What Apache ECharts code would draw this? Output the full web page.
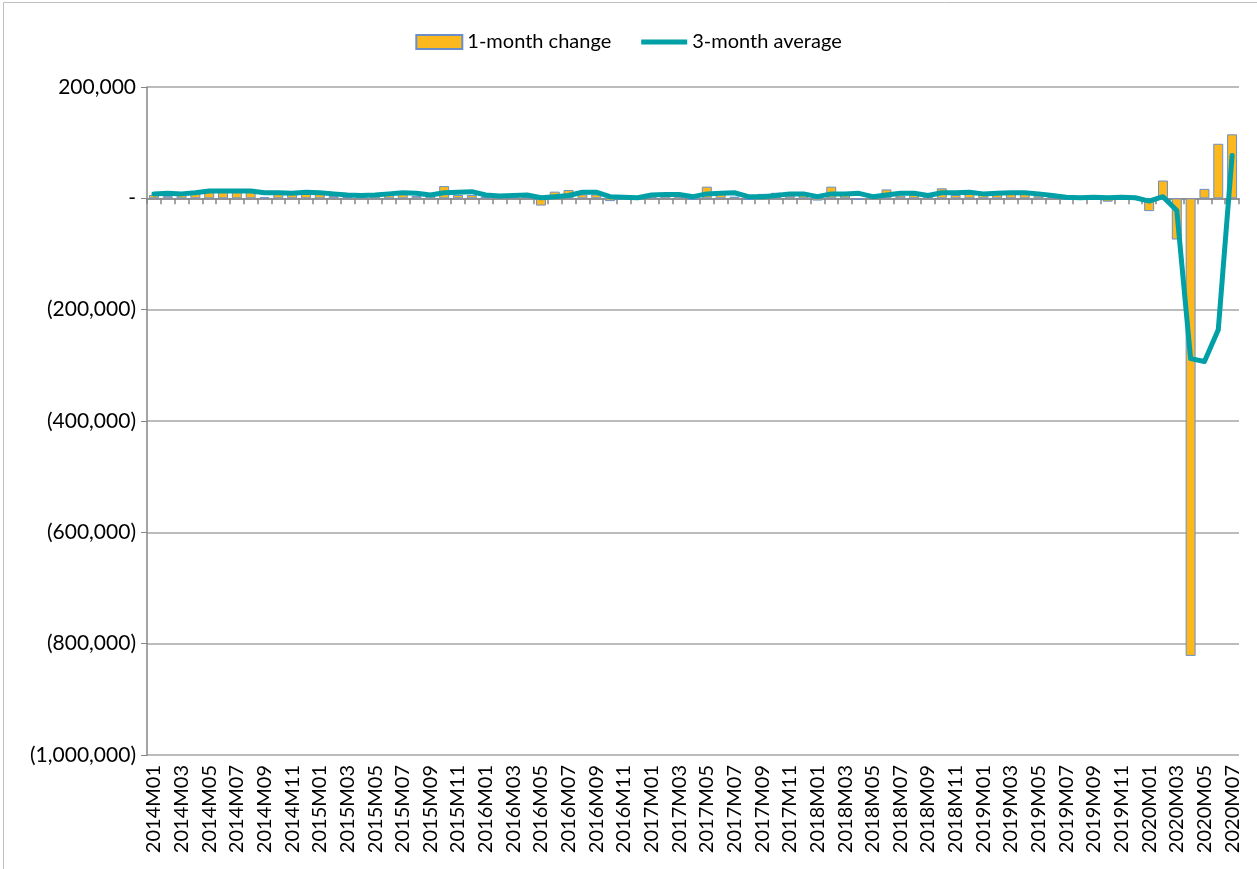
<!DOCTYPE html>
<html lang="en">
<head>
<meta charset="UTF-8" />
<script src="https://cdn.jsdelivr.net/npm/echarts@6/dist/echarts.min.js"></script>
<style>
html,body{margin:0;padding:0;background:#fff;}
#main{width:1257px;height:869px;}
</style>
</head>
<body>
<div id="main"></div>
<script type="text/javascript">
// months 2014M01 .. 2020M07
var years = ['2014','2015','2016','2017','2018','2019','2020'];
var months = [];
for (var y = 0; y < years.length; y++) {
	for (var m = 1; m <= 12; m++) {
		if (years[y] == '2020' && m > 7) break;
		months.push(years[y] + 'M' + (m < 10 ? '0' + m : m));
	}
}

// 1-month change
var change = [
	6000, 4000, 6000, 12000, 12000, 12000, 12000, 12000, 2000, 12000, 8000, 11000,
	9000, 4000, 3000, 4000, 9000, 10000, 12000, 4000, 6000, 22000, 6000, 6000,
	3000, 3000, 6000, 8000, -13000, 12000, 15000, 7000, 7000, -5000, 3000, 4000,
	8000, 8000, 5000, -3000, 21000, 8000, 3000, -3000, 8000, 10000, 5000, 9000,
	-4000, 21000, 8000, -3000, 4000, 16000, 5000, 6000, 6000, 18000, 6000, 9000,
	7000, 9000, 12000, 8000, 5000, 3000, -2000, 3000, 5000, -6000, 6000, 3000,
	-23000, 32000, -74000, -822000, 17000, 98000, 115000
];

// 3-month average
var avg3 = [
	8000, 9000, 8000, 10000, 13000, 13000, 13000, 13000, 10000, 10000, 9000, 11000,
	10000, 8000, 6000, 5000, 6000, 8000, 10000, 9000, 6000, 10000, 11000, 12000,
	6000, 4000, 5000, 6000, 1000, 3000, 5000, 11000, 11000, 3000, 2000, 1000,
	6000, 7000, 7000, 3000, 8000, 9000, 10000, 3000, 3000, 5000, 8000, 8000,
	3000, 8000, 8000, 9000, 3000, 6000, 9000, 9000, 5000, 10000, 10000, 11000,
	8000, 9000, 10000, 10000, 8000, 5000, 2000, 1000, 2000, 1000, 2000, 1000,
	-5000, 3000, -22000, -288000, -293000, -236000, 77000
];

var yTicks = { min: -1000000, max: 200000, step: 200000 };

function fmtNum(v) {
	if (v === 0) return '-';
	var s = Math.abs(v).toString().replace(/\B(?=(\d{3})+(?!\d))/g, ',');
	return v < 0 ? '(' + s + ')' : s;
}

var FONT = 'Lato';
var myChart = echarts.init(document.getElementById('main'));
myChart.setOption({
	animation: false,
	backgroundColor: '#fff',
	textStyle: { fontFamily: FONT },
	graphic: [{
		type: 'rect',
		shape: { x: 3.5, y: 2.5, width: 1260, height: 880 },
		style: { fill: 'none', stroke: '#BFBFBF', lineWidth: 1 },
		silent: true
	}],
	legend: {
		top: 27,
		left: 'center',
		itemGap: 30,
		itemWidth: 46,
		itemHeight: 14,
		textStyle: { fontFamily: FONT, fontSize: 20, color: '#000' },
		data: [
			{ name: '1-month change', icon: 'rect' },
			{ name: '3-month average', icon: 'path://M0,0 L46,0 L46,5 L0,5 Z' }
		]
	},
	grid: { left: 147, right: 18, top: 87, bottom: 114 },
	xAxis: [{
		type: 'category',
		data: months,
		position: 'bottom',
		axisLine: { onZero: true, lineStyle: { color: '#868686', width: 1.5 } },
		axisTick: { show: true, length: 6, interval: 0, lineStyle: { color: '#868686', width: 1.5 } },
		axisLabel: { show: false }
	}, {
		type: 'category',
		data: months,
		position: 'bottom',
		axisLine: { show: false, onZero: false },
		axisTick: { show: false },
		axisLabel: {
			interval: 1,
			rotate: 90,
			margin: 10,
			fontFamily: FONT,
			fontSize: 20,
			color: '#000'
		}
	}],
	yAxis: {
		type: 'value',
		min: yTicks.min,
		max: yTicks.max,
		interval: yTicks.step,
		axisLine: { show: true, lineStyle: { color: '#868686', width: 1.5 } },
		axisTick: { show: true, length: 6, lineStyle: { color: '#868686' } },
		axisLabel: {
			formatter: fmtNum,
			margin: 11,
			fontFamily: FONT,
			fontSize: 21,
			color: '#000'
		},
		splitLine: { lineStyle: { color: '#A6A6A6', width: 1.5 } }
	},
	series: [{
		name: '1-month change',
		type: 'bar',
		data: change,
		barCategoryGap: '28%',
		itemStyle: { color: '#FDB81E', borderColor: '#6A8FC8', borderWidth: 1 }
	}, {
		name: '3-month average',
		type: 'line',
		data: avg3,
		symbol: 'none',
		smooth: false,
		lineStyle: { color: '#00A0A6', width: 5, cap: 'round', join: 'round' },
		itemStyle: { color: '#00A0A6' }
	}]
});
</script>
</body>
</html>
